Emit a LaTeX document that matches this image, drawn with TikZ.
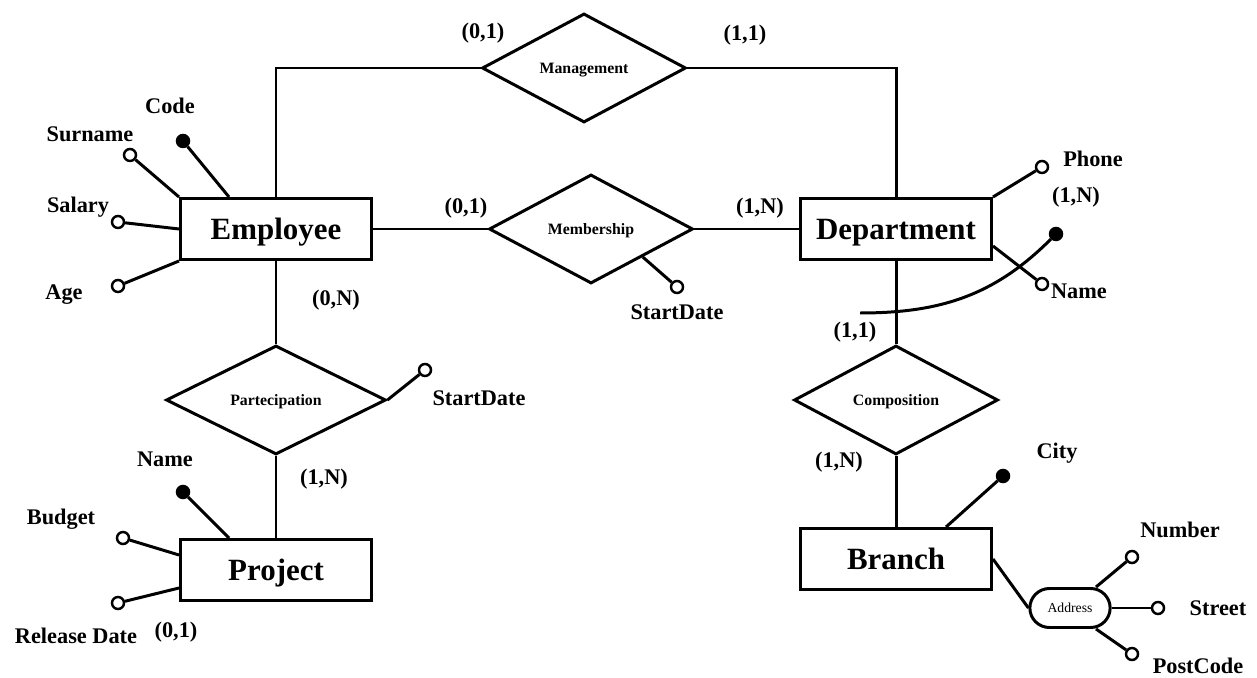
\documentclass[tikz,border=0pt]{standalone}
\usepackage{fontspec}
\setmainfont{Liberation Serif}
\usetikzlibrary{shapes.geometric,shapes.misc}

\tikzset{
  entity/.style={draw, rectangle, minimum width=3.82cm, minimum height=1.22cm,
    text depth=0pt, font=\fontsize{17.6}{20}\selectfont\bfseries},
  relation/.style={draw, diamond, inner sep=0pt, minimum width=4.08cm, minimum height=2.18cm,
    text depth=0pt, font=\fontsize{9}{11}\selectfont\bfseries},
  attr/.style={draw, circle, fill=white, minimum size=0.24cm, inner sep=0pt, line width=1.4pt},
  attrkey/.style={attr, fill=black},
  compound/.style={draw, rounded rectangle, minimum width=1.84cm, minimum height=0.78cm,
    font=\fontsize{7.8}{9}\selectfont},
  lbl/.style={anchor=base, inner sep=0pt, font=\fontsize{12.7}{15}\selectfont\bfseries}
}

\begin{document}
\begin{tikzpicture}[x=0.02cm, y=-0.02cm, line width=1.7pt]
  \useasboundingbox (0,0) rectangle (1257,678);

  % entities
  \node[entity] (emp)    at (276,229) {Employee};
  \node[entity] (dept)   at (896,229) {Department};
  \node[entity] (proj)   at (276,570) {Project};
  \node[entity] (branch) at (896,559) {Branch};

  % relationships
  \node[relation] (mgmt) at (584,68)  {Management};
  \node[relation] (memb) at (591,229) {Membership};
  \node[relation, minimum width=4.4cm] (part) at (276,400) {Partecipation};
  \node[relation] (comp) at (896,400) {Composition};

  \draw (emp.north) |- (mgmt.west);
  \draw (mgmt.east) -| (dept.north);
  \draw (emp.east) -- (memb.west);
  \draw (memb.east) -- (dept.west);
  \draw (emp.south) -- (part.north);
  \draw (part.south) -- (proj.north);
  \draw (dept.south) -- (comp.north);
  \draw (comp.south) -- (branch.north);

  % attributes of Employee
  \node[attrkey] (code)    at (183,141) {};
  \node[attr]    (surname) at (130,155) {};
  \node[attr]    (salary)  at (118,222) {};
  \node[attr]    (age)     at (118,286) {};
  \draw ([xshift=1cm]emp.north west) -- (code);
  \draw (emp.north west) -- (surname);
  \draw (emp.west) -- (salary);
  \draw (emp.south west) -- (age);

  % attributes of Department
  \node[attr]    (phone)  at (1042,167) {};
  \node[attr]    (dname)  at (1042,284) {};
  \node[attrkey] (deptid) at (1056,234) {};
  \draw (dept.north east) -- (phone);
  \draw ([yshift=-0.34cm]dept.east) -- (dname);
  \coordinate (idstart) at (860,313);
  \draw (idstart) to[out=0,in=225] (deptid);

  % attributes of relationships
  \node[attr] (mstart) at (677,287) {};
  \node[attr] (pstart) at (425,370) {};
  \draw (memb.south east) -- (mstart);
  \draw (part.east) -- (pstart);

  % attributes of Project
  \node[attrkey] (pname)   at (183,492) {};
  \node[attr]    (budget)  at (123,538) {};
  \node[attr]    (reldate) at (118,603) {};
  \draw ([xshift=1cm]proj.north west) -- (pname);
  \draw ([yshift=0.3cm]proj.west) -- (budget);
  \draw ([yshift=-0.36cm]proj.west) -- (reldate);

  % attributes of Branch
  \node[attrkey]  (city)     at (1003,476) {};
  \node[compound] (address)  at (1070,608) {Address};
  \node[attr]     (number)   at (1132,557) {};
  \node[attr]     (street)   at (1158,608) {};
  \node[attr]     (postcode) at (1132,654) {};
  \draw ([xshift=1cm]branch.north) -- (city);
  \draw (branch.east) -- (address.west);
  \draw ([xshift=0.52cm]address.north) -- (number);
  \draw (address.east) -- (street);
  \draw ([xshift=0.52cm]address.south) -- (postcode);

  % attribute names
  \node[lbl] (lcode)     at (170,114)  {Code};
  \node[lbl] (lsurname)  at (90,142)   {Surname};
  \node[lbl] (lsalary)   at (78,213)   {Salary};
  \node[lbl] (lage)      at (64,300)   {Age};
  \node[lbl] (lphone)    at (1093,167) {Phone};
  \node[lbl] (ldname)    at (1079,299) {Name};
  \node[lbl] (lmstart)   at (677,320)  {StartDate};
  \node[lbl] (lpstart)   at (479,406)  {StartDate};
  \node[lbl] (lpname)    at (165,466)  {Name};
  \node[lbl] (lbudget)   at (61,524)   {Budget};
  \node[lbl] (lreldate)  at (76,643)   {Release Date};
  \node[lbl] (lcity)     at (1057,459) {City};
  \node[lbl] (lnumber)   at (1180,537) {Number};
  \node[lbl] (lstreet)   at (1218,615) {Street};
  \node[lbl] (lpostcode) at (1198,673) {PostCode};

  % cardinalities
  \node[lbl] (cmgmtemp)  at (483,39)  {(0,1)};
  \node[lbl] (cmgmtdept) at (745,41)  {(1,1)};
  \node[lbl] (cmembemp)  at (466,214) {(0,1)};
  \node[lbl] (cmembdept) at (760,214) {(1,N)};
  \node[lbl] (cpartemp)  at (336,306) {(0,N)};
  \node[lbl] (cpartproj) at (324,484) {(1,N)};
  \node[lbl] (ccompdept) at (855,338) {(1,1)};
  \node[lbl] (ccompbr)   at (839,467) {(1,N)};
  \node[lbl] (cphone)    at (1076,203) {(1,N)};
  \node[lbl] (creldate)  at (176,637) {(0,1)};
\end{tikzpicture}
\end{document}
